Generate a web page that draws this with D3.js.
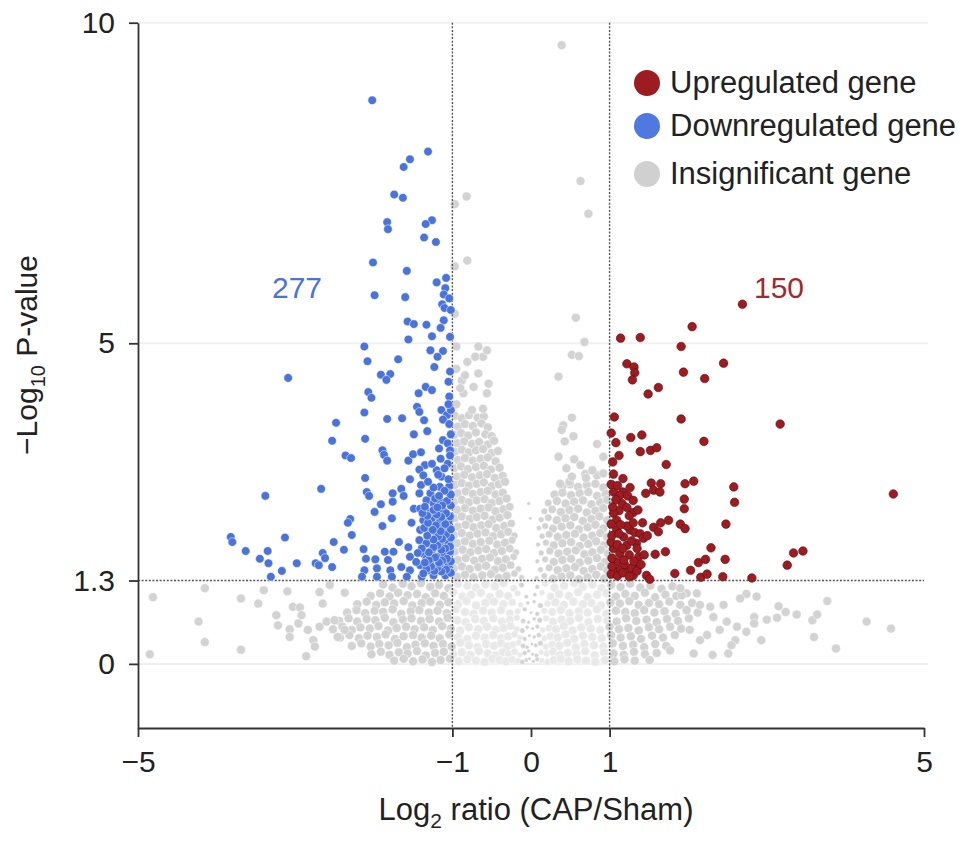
<!DOCTYPE html>
<html>
<head>
<meta charset="utf-8">
<script src="https://cdn.jsdelivr.net/npm/d3@7"></script>
<style>
  body { margin: 0; background: #fff; }
  svg text { font-family: "Liberation Sans", Arial, Helvetica, sans-serif; }
</style>
</head>
<body>
<svg id="chart"></svg>
<script>
// values: [log2 ratio, -log10 p]
const downGenes = [
  [-2.02,8.79],[-1.31,7.99],[-1.54,7.87],[-1.62,7.75],[-1.74,7.32],[-1.63,7.27],[-1.83,6.89],[-1.82,6.78],
  [-1.26,6.92],[-1.34,6.86],[-1.36,6.65],[-1.21,6.58],[-2.01,6.26],[-1.58,6.13],[-1.99,5.75],[-1.60,5.72],
  [-1.08,6.02],[-1.20,5.95],[-1.09,5.86],[-1.11,5.76],[-1.13,5.61],[-1.10,5.55],[-1.11,5.36],[-1.57,5.34],
  [-1.49,5.30],[-1.33,5.29],[-1.15,5.24],[-1.26,5.11],[-1.03,5.10],[-1.56,5.06],[-2.12,4.95],[-2.08,4.72],
  [-1.69,4.75],[-1.28,4.89],[-1.12,4.88],[-1.19,4.79],[-1.23,4.63],[-3.09,4.46],[-1.91,4.51],[-1.79,4.52],
  [-1.84,4.43],[-2.07,4.24],[-2.03,4.15],[-1.43,4.22],[-1.34,4.32],[-1.26,4.27],[-1.04,4.17],[-2.12,3.92],
  [-1.83,3.82],[-1.64,3.83],[-1.45,4.01],[-1.42,3.93],[-1.36,3.80],[-1.14,3.96],[-1.07,3.88],[-1.12,3.81],
  [-2.48,3.76],[-2.53,3.48],[-2.11,3.51],[-1.49,3.58],[-1.32,3.63],[-1.12,3.49],[-1.06,3.44],[-1.17,3.36],
  [-1.03,3.33],[-2.36,3.25],[-2.29,3.21],[-1.89,3.33],[-1.87,3.26],[-1.83,3.17],[-1.56,3.17],[-1.50,3.27],
  [-1.40,3.30],[-1.35,3.10],[-1.42,3.03],[-1.20,3.02],[-1.06,3.12],[-1.37,2.94],[-1.14,2.92],[-1.54,2.88],
  [-2.11,2.90],[-2.67,2.73],[-3.38,2.62],[-2.09,2.68],[-2.06,2.62],[-1.76,2.66],[-1.65,2.73],[-1.62,2.62],
  [-1.40,2.79],[-1.42,2.66],[-1.28,2.66],[-1.16,2.76],[-1.04,2.77],[-1.04,2.66],[-1.76,2.53],[-1.91,2.49],
  [-1.99,2.37],[-1.49,2.42],[-1.33,2.55],[-1.24,2.50],[-1.16,2.53],[-1.12,2.40],[-1.28,2.37],[-1.41,2.42],
  [-2.30,2.26],[-2.33,2.20],[-1.77,2.27],[-1.89,2.15],[-1.52,2.20],[-1.37,2.24],[-1.26,2.27],[-1.16,2.22],
  [-1.05,2.22],[-2.28,2.01],[-1.41,2.09],[-1.28,2.09],[-1.12,2.14],[-1.20,2.02],[-3.82,1.98],[-3.80,1.90],
  [-3.13,1.97],[-2.51,1.90],[-2.38,1.78],[-2.13,1.79],[-1.68,1.90],[-1.56,1.82],[-1.42,1.93],[-1.33,1.88],
  [-1.16,1.88],[-1.05,1.88],[-3.63,1.76],[-3.35,1.76],[-3.45,1.64],[-3.34,1.57],[-2.98,1.57],[-3.17,1.45],
  [-2.65,1.73],[-2.62,1.65],[-2.74,1.57],[-2.70,1.54],[-2.53,1.51],[-2.10,1.64],[-1.98,1.63],[-1.86,1.75],
  [-1.75,1.75],[-1.82,1.62],[-1.54,1.67],[-1.37,1.72],[-1.26,1.77],[-1.12,1.72],[-1.03,1.75],[-2.12,1.46],
  [-1.96,1.49],[-1.79,1.46],[-1.65,1.51],[-1.54,1.46],[-1.41,1.54],[-1.28,1.57],[-1.16,1.54],[-1.05,1.54],
  [-3.31,1.36],[-2.15,1.36],[-1.96,1.36],[-1.77,1.36],[-1.58,1.36],[-1.39,1.36],[-1.24,1.38],[-1.09,1.38],
  [-1.31,1.46],[-1.20,1.67],[-1.33,1.64],[-1.46,1.59],
  [-1.02,1.42],[-1.08,1.47],[-1.14,1.44],[-1.19,1.50],[-1.23,1.45],[-1.27,1.52],[-1.33,1.48],[-1.37,1.41],
  [-1.02,1.60],[-1.07,1.64],[-1.13,1.61],[-1.17,1.58],[-1.22,1.66],[-1.30,1.62],[-1.35,1.58],[-1.03,1.83],
  [-1.09,1.80],[-1.14,1.78],[-1.19,1.85],[-1.24,1.82],[-1.30,1.74],[-1.39,1.80],[-1.44,1.73],[-1.02,1.97],
  [-1.08,2.02],[-1.13,1.95],[-1.18,1.99],[-1.24,1.94],[-1.32,2.00],[-1.36,2.12],[-1.02,2.10],[-1.09,2.18],
  [-1.15,2.07],[-1.21,2.16],[-1.25,2.09],[-1.31,2.20],[-1.03,2.30],[-1.08,2.35],[-1.14,2.29],[-1.20,2.33],
  [-1.24,2.40],[-1.32,2.31],[-1.38,2.35],[-1.02,2.47],[-1.07,2.54],[-1.13,2.47],[-1.19,2.44],[-1.22,2.58],
  [-1.35,2.45],[-1.02,2.64],[-1.10,2.70],[-1.17,2.62],[-1.24,2.75],[-1.31,2.84],[-1.05,2.88],[-1.10,3.05],
  [-1.18,2.95],[-1.26,3.12],[-1.03,3.25],[-1.15,3.20],[-1.02,3.58],[-1.04,3.74],[-1.02,3.96],[-1.05,4.40],
  [-1.03,4.56],[-1.02,5.52],[-1.04,5.70],[-1.05,4.05]
];

const upGenes = [
  [2.69,5.61],[2.05,5.26],[1.14,5.08],[1.39,5.09],[1.91,4.95],[2.45,4.69],[1.22,4.68],[1.31,4.63],
  [1.32,4.54],[1.29,4.43],[1.94,4.55],[2.21,4.45],[1.49,4.21],[1.62,4.31],[1.91,3.82],[3.17,3.74],
  [1.08,3.45],[1.27,3.53],[1.41,3.57],[1.39,3.31],[1.52,3.33],[1.60,3.37],[2.20,3.47],[1.72,3.11],
  [1.05,2.96],[1.17,2.89],[1.53,2.82],[1.65,2.81],[1.96,2.81],[2.07,2.85],[2.58,2.76],[1.05,2.68],
  [1.17,2.68],[1.13,2.63],[1.23,2.62],[1.46,2.66],[1.56,2.71],[1.64,2.68],[1.95,2.57],[1.95,2.42],
  [2.59,2.52],[4.61,2.65],[1.12,2.39],[1.30,2.36],[1.25,2.31],[1.05,2.35],[1.09,2.24],[1.75,2.24],
  [1.65,2.20],[1.56,2.13],[1.62,2.06],[1.90,2.18],[1.96,2.11],[2.48,2.18],[1.09,2.09],[1.18,1.98],
  [1.26,2.09],[1.32,2.05],[1.39,2.03],[1.43,1.96],[1.22,1.85],[1.34,1.88],[1.05,1.80],[1.13,1.72],
  [1.25,1.70],[1.37,1.67],[1.35,1.80],[1.58,1.71],[1.71,1.75],[2.29,1.81],[2.13,1.58],[2.22,1.63],
  [2.47,1.63],[2.03,1.46],[3.34,1.73],[3.46,1.76],[3.26,1.54],[1.09,1.59],[1.07,1.45],[1.30,1.38],
  [1.35,1.50],[1.47,1.38],[1.51,1.32],[1.83,1.41],[2.16,1.35],[2.24,1.40],[2.44,1.36],[2.81,1.34],
  [1.22,1.45],[1.14,1.47],
  [1.02,1.40],[1.10,1.37],[1.17,1.42],[1.25,1.36],[1.03,1.52],[1.19,1.55],[1.28,1.50],[1.03,1.65],
  [1.18,1.62],[1.31,1.60],[1.02,1.90],[1.10,1.86],[1.17,1.80],[1.28,1.92],[1.03,2.00],[1.12,2.03],
  [1.22,2.15],[1.14,2.17],[1.30,2.20],[1.02,2.18],[1.04,2.45],[1.16,2.50],[1.22,2.44],[1.08,2.56],
  [1.30,2.55],[1.02,2.80],[1.10,2.78],[1.26,2.75],[1.04,3.15],[1.12,3.25],[1.02,3.60],[1.06,3.85],
  [1.35,1.45],[1.40,1.55],[1.44,1.70],[1.48,2.00],[1.42,2.20],[1.36,2.40]
];

// insignificant genes, split by region of the plot
const greyUpper = [
  [0.39,9.65],[0.63,7.53],[0.73,7.02],[-0.82,7.29],[-0.97,7.17],[-0.81,6.29],[-0.97,6.20],[-0.97,5.46],
  [0.57,5.40],[0.68,5.02],[-0.67,4.95],[-0.95,4.95],[-0.61,4.79],[-0.81,4.71],[-0.71,4.79],[-0.56,4.89],
  [0.52,4.82],[0.61,4.80],[0.35,4.48],[-0.67,4.53],[-0.54,4.37],[-0.73,4.32],[-0.86,4.22],[-0.88,4.42],
  [-0.56,4.22],[-0.61,3.98],[-0.75,3.96],[-0.95,4.05],[-0.90,4.30],[-0.95,4.60],[-0.84,4.50],[0.52,3.84],
  [0.41,3.72],[0.39,3.65],[0.54,3.55],[0.43,3.47],[0.84,3.43],[0.35,3.23],[0.55,3.19],[0.92,3.23],
  [0.69,2.96],[0.84,2.94],[0.37,2.81],[0.49,2.84],[-0.03,2.50],[-0.01,2.27],
  [0.45,3.05],[0.63,3.10],[0.78,3.02],[0.92,2.97],[0.52,2.92],[0.70,2.90]
];

const greyLeftWing = [
  [-0.97,3.87],[-0.88,3.83],[-0.79,3.88],[-0.68,3.84],[-0.60,3.86],
  [-0.93,3.70],[-0.84,3.74],[-0.74,3.71],[-0.63,3.75],[-0.55,3.69],
  [-0.98,3.57],[-0.89,3.60],[-0.80,3.56],[-0.70,3.61],[-0.58,3.58],[-0.50,3.55],
  [-0.94,3.44],[-0.85,3.47],[-0.75,3.43],[-0.66,3.46],[-0.55,3.42],[-0.47,3.48],
  [-0.97,3.31],[-0.88,3.34],[-0.79,3.30],[-0.70,3.33],[-0.61,3.35],[-0.50,3.29],[-0.42,3.32],
  [-0.93,3.18],[-0.84,3.21],[-0.74,3.17],[-0.64,3.20],[-0.55,3.22],[-0.45,3.16],
  [-0.98,3.05],[-0.89,3.08],[-0.80,3.04],[-0.70,3.07],[-0.60,3.09],[-0.51,3.03],[-0.40,3.06],
  [-0.94,2.92],[-0.85,2.95],[-0.75,2.91],[-0.65,2.94],[-0.56,2.96],[-0.46,2.90],[-0.36,2.93],
  [-0.97,2.79],[-0.88,2.82],[-0.79,2.78],[-0.69,2.81],[-0.60,2.83],[-0.50,2.77],[-0.41,2.80],[-0.33,2.84],
  [-0.93,2.66],[-0.83,2.69],[-0.74,2.65],[-0.64,2.68],[-0.55,2.70],[-0.45,2.64],[-0.36,2.67],
  [-0.98,2.53],[-0.88,2.56],[-0.79,2.52],[-0.69,2.55],[-0.59,2.57],[-0.50,2.51],[-0.40,2.54],[-0.31,2.58],
  [-0.94,2.40],[-0.84,2.43],[-0.74,2.39],[-0.64,2.42],[-0.54,2.44],[-0.45,2.38],[-0.35,2.41],[-0.27,2.45],
  [-0.97,2.27],[-0.88,2.30],[-0.78,2.26],[-0.69,2.29],[-0.59,2.31],[-0.49,2.25],[-0.40,2.28],[-0.30,2.32],
  [-0.93,2.14],[-0.83,2.17],[-0.73,2.13],[-0.63,2.16],[-0.54,2.18],[-0.44,2.12],[-0.34,2.15],[-0.25,2.19],
  [-0.98,2.01],[-0.88,2.04],[-0.78,2.00],[-0.68,2.03],[-0.58,2.05],[-0.48,1.99],[-0.38,2.02],[-0.29,2.06],[-0.21,2.00],
  [-0.94,1.88],[-0.84,1.91],[-0.74,1.87],[-0.64,1.90],[-0.53,1.92],[-0.43,1.86],[-0.33,1.89],[-0.24,1.93],
  [-0.97,1.75],[-0.87,1.78],[-0.77,1.74],[-0.67,1.77],[-0.57,1.79],[-0.47,1.73],[-0.37,1.76],[-0.27,1.80],[-0.19,1.74],
  [-0.93,1.62],[-0.83,1.65],[-0.72,1.61],[-0.62,1.64],[-0.52,1.66],[-0.42,1.60],[-0.32,1.63],[-0.22,1.67],
  [-0.98,1.49],[-0.88,1.52],[-0.78,1.48],[-0.67,1.51],[-0.57,1.53],[-0.46,1.47],[-0.36,1.50],[-0.26,1.54],[-0.16,1.48],
  [-0.94,1.36],[-0.84,1.39],[-0.73,1.35],[-0.62,1.38],[-0.51,1.40],[-0.41,1.34],[-0.31,1.37],[-0.21,1.41],[-0.12,1.35]
];

const greyRightWing = [
  [0.40,2.77],[0.50,2.80],[0.60,2.76],[0.71,2.79],[0.82,2.81],[0.92,2.75],
  [0.30,2.64],[0.40,2.67],[0.51,2.63],[0.62,2.66],[0.73,2.68],[0.84,2.62],[0.95,2.65],
  [0.22,2.51],[0.33,2.54],[0.44,2.50],[0.55,2.53],[0.66,2.55],[0.77,2.49],[0.88,2.52],[0.97,2.56],
  [0.17,2.38],[0.27,2.41],[0.38,2.37],[0.49,2.40],[0.60,2.42],[0.71,2.36],[0.82,2.39],[0.92,2.43],
  [0.13,2.25],[0.22,2.28],[0.33,2.24],[0.44,2.27],[0.55,2.29],[0.66,2.23],[0.77,2.26],[0.87,2.30],[0.97,2.24],
  [0.10,2.12],[0.18,2.15],[0.28,2.11],[0.39,2.14],[0.50,2.16],[0.61,2.10],[0.72,2.13],[0.82,2.17],[0.92,2.11],
  [0.14,1.99],[0.23,2.02],[0.34,1.98],[0.45,2.01],[0.56,2.03],[0.67,1.97],[0.78,2.00],[0.88,2.04],[0.97,1.98],
  [0.09,1.86],[0.19,1.89],[0.29,1.85],[0.40,1.88],[0.51,1.90],[0.62,1.84],[0.73,1.87],[0.83,1.91],[0.93,1.85],
  [0.13,1.73],[0.24,1.76],[0.35,1.72],[0.46,1.75],[0.57,1.77],[0.68,1.71],[0.78,1.74],[0.89,1.78],[0.98,1.72],
  [0.08,1.60],[0.18,1.63],[0.29,1.59],[0.40,1.62],[0.51,1.64],[0.62,1.58],[0.73,1.61],[0.84,1.65],[0.94,1.59],
  [0.12,1.47],[0.23,1.50],[0.34,1.46],[0.45,1.49],[0.56,1.51],[0.67,1.45],[0.78,1.48],[0.89,1.52],[0.97,1.46],
  [0.07,1.34],[0.17,1.37],[0.28,1.33],[0.39,1.36],[0.50,1.38],[0.61,1.32],[0.72,1.35],[0.83,1.39],[0.93,1.33]
];

const greyLowerBand = [
  [-1.88,1.24],[-1.76,1.19],[-1.63,1.25],[-1.52,1.21],[-1.40,1.26],[-1.28,1.20],[-1.17,1.23],[-1.05,1.18],
  [-0.93,1.25],[-0.81,1.22],[-0.70,1.19],[-0.58,1.24],[-0.46,1.21],[-0.35,1.26],[-0.22,1.18],[-0.12,1.23],
  [0.08,1.20],[0.18,1.25],[0.30,1.19],[0.42,1.22],[0.55,1.26],[0.66,1.20],[0.78,1.24],[0.90,1.18],
  [1.02,1.23],[1.14,1.20],[1.26,1.25],[1.39,1.19],[1.52,1.22],[1.66,1.17],[1.80,1.21],
  [-2.04,1.06],[-1.92,1.10],[-1.80,1.05],[-1.69,1.11],[-1.57,1.07],[-1.45,1.09],[-1.34,1.04],[-1.22,1.10],
  [-1.11,1.06],[-0.99,1.12],[-0.87,1.05],[-0.76,1.08],[-0.64,1.11],[-0.52,1.04],[-0.40,1.09],[-0.29,1.06],
  [-0.17,1.10],[-0.06,1.05],[0.05,1.08],[0.14,1.11],[0.25,1.05],[0.36,1.09],[0.48,1.06],[0.60,1.12],
  [0.72,1.04],[0.84,1.08],[0.96,1.10],[1.08,1.05],[1.20,1.09],[1.32,1.06],[1.45,1.11],[1.58,1.04],
  [1.71,1.08],[1.85,1.06],[1.98,1.10],
  [-2.21,0.93],[-2.09,0.97],[-1.97,0.92],[-1.86,0.96],[-1.74,0.94],[-1.62,0.98],[-1.51,0.91],[-1.39,0.95],
  [-1.28,0.97],[-1.16,0.92],[-1.05,0.96],[-0.93,0.93],[-0.82,0.98],[-0.70,0.91],[-0.58,0.95],[-0.47,0.97],
  [-0.35,0.93],[-0.24,0.96],[-0.13,0.92],[-0.04,0.95],[0.04,0.97],[0.12,0.91],[0.21,0.94],[0.31,0.96],
  [0.42,0.92],[0.54,0.97],[0.66,0.93],[0.77,0.95],[0.89,0.91],[1.01,0.96],[1.13,0.94],[1.25,0.98],
  [1.37,0.92],[1.50,0.95],[1.63,0.93],[1.76,0.97],[1.90,0.92],[2.05,0.95],
  [-2.34,0.80],[-2.22,0.84],[-2.11,0.79],[-1.99,0.83],[-1.88,0.81],[-1.76,0.85],[-1.65,0.78],[-1.53,0.82],
  [-1.42,0.84],[-1.30,0.80],[-1.19,0.83],[-1.07,0.79],[-0.96,0.85],[-0.84,0.81],[-0.73,0.78],[-0.61,0.83],
  [-0.50,0.80],[-0.38,0.84],[-0.27,0.79],[-0.17,0.82],[-0.08,0.85],[0.00,0.80],[0.08,0.78],[0.17,0.83],
  [0.27,0.81],[0.38,0.84],[0.49,0.79],[0.61,0.82],[0.72,0.80],[0.84,0.85],[0.96,0.78],[1.08,0.83],
  [1.20,0.81],[1.32,0.79],[1.44,0.84],[1.57,0.80],[1.70,0.82],[1.84,0.78],[1.98,0.83],[2.12,0.80],
  [-2.44,0.67],[-2.32,0.71],[-2.21,0.66],[-2.09,0.70],[-1.98,0.68],[-1.86,0.72],[-1.75,0.65],[-1.63,0.69],
  [-1.52,0.71],[-1.40,0.67],[-1.29,0.70],[-1.17,0.66],[-1.06,0.72],[-0.94,0.68],[-0.83,0.65],[-0.71,0.70],
  [-0.60,0.67],[-0.48,0.71],[-0.37,0.66],[-0.27,0.69],[-0.18,0.72],[-0.10,0.67],[-0.03,0.65],[0.04,0.70],
  [0.11,0.68],[0.19,0.71],[0.28,0.66],[0.39,0.69],[0.50,0.67],[0.61,0.72],[0.73,0.65],[0.85,0.70],
  [0.97,0.68],[1.09,0.66],[1.21,0.71],[1.34,0.67],[1.47,0.69],[1.60,0.65],[1.73,0.70],[1.87,0.67],[2.01,0.71],
  [-2.52,0.54],[-2.40,0.58],[-2.28,0.53],[-2.17,0.57],[-2.05,0.55],[-1.94,0.59],[-1.82,0.52],[-1.71,0.56],
  [-1.59,0.58],[-1.48,0.54],[-1.36,0.57],[-1.25,0.53],[-1.13,0.59],[-1.02,0.55],[-0.90,0.52],[-0.79,0.57],
  [-0.67,0.54],[-0.56,0.58],[-0.45,0.53],[-0.35,0.56],[-0.26,0.59],[-0.18,0.54],[-0.11,0.52],[-0.05,0.57],
  [0.02,0.55],[0.08,0.58],[0.15,0.53],[0.23,0.56],[0.32,0.54],[0.42,0.59],[0.53,0.52],[0.64,0.57],
  [0.76,0.55],[0.88,0.53],[1.00,0.58],[1.12,0.54],[1.24,0.56],[1.37,0.52],[1.50,0.57],[1.63,0.54],
  [1.77,0.58],[1.91,0.55],
  [-2.43,0.41],[-2.31,0.45],[-2.19,0.40],[-2.08,0.44],[-1.96,0.42],[-1.85,0.46],[-1.73,0.39],[-1.62,0.43],
  [-1.50,0.45],[-1.39,0.41],[-1.27,0.44],[-1.16,0.40],[-1.04,0.46],[-0.93,0.42],[-0.81,0.39],[-0.70,0.44],
  [-0.59,0.41],[-0.48,0.45],[-0.38,0.40],[-0.29,0.43],[-0.21,0.46],[-0.14,0.41],[-0.08,0.39],[-0.02,0.44],
  [0.04,0.42],[0.10,0.45],[0.17,0.40],[0.25,0.43],[0.34,0.41],[0.44,0.46],[0.55,0.39],[0.66,0.44],
  [0.78,0.42],[0.90,0.40],[1.02,0.45],[1.14,0.41],[1.27,0.43],[1.40,0.39],[1.54,0.44],[1.68,0.41],[1.83,0.45],
  [-2.28,0.28],[-2.16,0.32],[-2.04,0.27],[-1.93,0.31],[-1.81,0.29],[-1.70,0.33],[-1.58,0.26],[-1.47,0.30],
  [-1.35,0.32],[-1.24,0.28],[-1.12,0.31],[-1.01,0.27],[-0.90,0.33],[-0.79,0.29],[-0.68,0.26],[-0.57,0.31],
  [-0.47,0.28],[-0.38,0.32],[-0.30,0.27],[-0.23,0.30],[-0.16,0.33],[-0.10,0.28],[-0.05,0.26],[0.01,0.31],
  [0.06,0.29],[0.12,0.32],[0.19,0.27],[0.27,0.30],[0.36,0.28],[0.46,0.33],[0.57,0.26],[0.68,0.31],
  [0.80,0.29],[0.92,0.27],[1.04,0.32],[1.17,0.28],[1.30,0.30],[1.44,0.26],[1.58,0.31],[1.72,0.28],
  [-2.03,0.15],[-1.91,0.19],[-1.80,0.14],[-1.68,0.18],[-1.57,0.16],[-1.45,0.20],[-1.34,0.13],[-1.22,0.17],
  [-1.11,0.19],[-0.99,0.15],[-0.88,0.18],[-0.77,0.14],[-0.66,0.20],[-0.55,0.16],[-0.45,0.13],[-0.36,0.18],
  [-0.28,0.15],[-0.21,0.19],[-0.14,0.14],[-0.08,0.17],[-0.03,0.20],[0.02,0.15],[0.07,0.13],[0.13,0.18],
  [0.20,0.16],[0.28,0.19],[0.37,0.14],[0.47,0.17],[0.58,0.15],[0.69,0.20],[0.81,0.13],[0.93,0.18],
  [1.05,0.16],[1.18,0.14],[1.31,0.19],[1.45,0.15],[1.60,0.17],
  [-1.74,0.05],[-1.62,0.08],[-1.50,0.04],[-1.38,0.07],[-1.26,0.03],[-1.15,0.06],[-1.03,0.08],[-0.92,0.04],
  [-0.81,0.07],[-0.70,0.05],[-0.59,0.03],[-0.49,0.08],[-0.40,0.06],[-0.32,0.04],[-0.24,0.07],[-0.17,0.05],
  [-0.11,0.03],[-0.06,0.06],[-0.02,0.08],[0.03,0.04],[0.08,0.07],[0.14,0.05],[0.21,0.03],[0.29,0.06],
  [0.38,0.08],[0.48,0.04],[0.59,0.07],[0.70,0.05],[0.82,0.03],[0.94,0.06],[1.06,0.04],[1.19,0.07],[1.32,0.05]
];

const greySides = [
  [-4.81,1.04],[-4.15,1.18],[-4.23,0.66],[-4.15,0.34],[-4.85,0.15],[-3.69,1.02],[-3.69,0.22],[-3.47,0.94],
  [-3.40,1.15],[-3.10,1.13],[-3.24,0.76],[-3.22,0.60],[-3.03,0.89],[-2.94,0.88],[-2.92,0.76],[-2.96,0.63],
  [-3.07,0.54],[-3.07,0.42],[-2.84,0.53],[-2.86,0.12],[-2.77,0.37],[-2.75,0.27],[-2.69,1.12],[-2.65,0.94],
  [-2.56,1.23],[-2.37,1.11],[-2.69,0.58],[-2.60,0.66],[-2.50,0.68],[-2.46,0.42],[-2.37,0.53],
  [3.77,0.98],[4.27,0.66],[4.58,0.55],[3.88,0.24],[3.60,0.42],[3.58,0.68],[3.64,0.77],[3.38,0.77],
  [3.24,0.81],[3.15,0.90],[3.13,0.72],[3.00,0.69],[2.93,0.37],[2.87,1.05],[2.74,1.09],[2.66,1.02],
  [2.84,0.73],[2.84,0.63],[2.74,0.50],[2.60,0.37],[2.55,0.29],[2.51,0.16],[2.31,0.14],[2.62,0.58],
  [2.49,0.66],[2.40,0.53],[2.45,0.92],[2.32,0.73],[2.28,0.89],[2.15,0.92],[2.11,1.10],[1.92,1.07],
  [1.90,1.18],[2.07,0.16],[2.24,0.45],[2.15,0.37],[2.02,0.53],[1.98,0.84],[1.51,0.06],[1.77,0.21]
];

const xTicks = [-5, -1, 0, 1, 5];
const yTicks = [0, 1.3, 5, 10];
const gridValues = [0, 5, 10];
const foldCutoffs = [-1, 1];
const pCutoff = 1.3;
const legendLabels = ["Upregulated gene", "Downregulated gene", "Insignificant gene"];
const countLabels = [277, 150];

let width = 969;
let height = 841;
const colors = {up: "#9c1c21", down: "#4a74dc", grey: "#d3d3d3", greyPale: "#e9e9e9"};

function main() {
    let svg = d3.select("#chart")
        .attr("width", width)
        .attr("height", height);

    let x = d3.scaleLinear().domain([-5, 5]).range([138, 924]);
    let y = d3.scaleLinear().domain([-1, 10]).range([728, 22.7]);
    // grey dots near zero fold change are drawn smaller
    let rGrey = d3.scaleLinear().domain([0, 0.3]).range([1.6, 4.5]).clamp(true);

    // faint grid
    svg.append("g")
        .selectAll("line")
        .data(gridValues)
        .join("line")
        .attr("x1", x(-5)).attr("x2", x(5) + 4)
        .attr("y1", d => y(d)).attr("y2", d => y(d))
        .attr("stroke", "#f0f0f0")
        .attr("stroke-width", 2);

    let allGrey = greyLowerBand.concat(greySides, greyLeftWing, greyRightWing, greyUpper);
    svg.append("g")
        .selectAll("circle")
        .data(allGrey)
        .join("circle")
        .attr("cx", d => x(d[0]))
        .attr("cy", d => y(d[1]))
        .attr("r", d => rGrey(Math.abs(d[0])))
        // the crowded centre under the cutoff reads paler in the picture
        .attr("fill", d => (Math.abs(d[0]) < 1 && d[1] < pCutoff && Math.abs(d[0]) > 0.12) ? colors.greyPale : colors.grey)
        .attr("stroke", "#fff")
        .attr("stroke-width", 0.5);

    // threshold lines
    let dash = svg.append("g")
        .attr("stroke", "#555")
        .attr("stroke-width", 1.4)
        .attr("stroke-dasharray", "2,1.6");
    dash.selectAll("line.v")
        .data(foldCutoffs)
        .join("line")
        .attr("class", "v")
        .attr("x1", d => x(d)).attr("x2", d => x(d))
        .attr("y1", y(10)).attr("y2", y(-1));
    dash.append("line")
        .attr("x1", x(-5)).attr("x2", x(5))
        .attr("y1", y(pCutoff)).attr("y2", y(pCutoff));

    svg.append("g")
        .selectAll("circle")
        .data(downGenes)
        .join("circle")
        .attr("cx", d => x(d[0]))
        .attr("cy", d => y(d[1]))
        .attr("r", 4.3)
        .attr("fill", colors.down)
        .attr("stroke", "#fff")
        .attr("stroke-width", 0.5);

    svg.append("g")
        .selectAll("circle")
        .data(upGenes)
        .join("circle")
        .attr("cx", d => x(d[0]))
        .attr("cy", d => y(d[1]))
        .attr("r", 4.3)
        .attr("fill", colors.up)
        .attr("stroke", "#5e0f12")
        .attr("stroke-width", 0.6);

    // axes
    let yAxis = svg.append("g")
        .attr("transform", `translate(${x(-5)},0)`)
        .call(d3.axisLeft(y).tickValues(yTicks).tickSize(9).tickSizeOuter(0).tickPadding(14)
            .tickFormat(d => d === 1.3 ? "1.3" : d3.format("d")(d)));
    let xAxis = svg.append("g")
        .attr("transform", `translate(0,${y(-1)})`)
        .call(d3.axisBottom(x).tickValues(xTicks).tickSize(9).tickSizeOuter(0).tickPadding(14));
    [yAxis, xAxis].forEach(a => {
        a.select(".domain").attr("stroke", "#333").attr("stroke-width", 1.8);
        a.selectAll(".tick line").attr("stroke", "#333").attr("stroke-width", 1.8);
        a.selectAll(".tick text").attr("font-size", 30).attr("fill", "#222")
            .attr("font-family", "Liberation Sans, Arial, sans-serif");
    });

    // axis titles
    let xt = svg.append("text")
        .attr("x", 536).attr("y", 820)
        .attr("text-anchor", "middle")
        .attr("font-size", 31).attr("fill", "#222");
    xt.append("tspan").text("Log");
    xt.append("tspan").attr("font-size", 21).attr("dy", 8).text("2");
    xt.append("tspan").attr("dy", -8).text(" ratio (CAP/Sham)");

    let yt = svg.append("text")
        .attr("transform", "translate(37,355) rotate(-90)")
        .attr("text-anchor", "middle")
        .attr("font-size", 30).attr("fill", "#222");
    yt.append("tspan").text("\u2212Log");
    yt.append("tspan").attr("font-size", 20).attr("dy", 8).text("10");
    yt.append("tspan").attr("dy", -8).text(" P-value");

    // counts
    svg.append("text")
        .attr("x", 297).attr("y", 298)
        .attr("text-anchor", "middle")
        .attr("font-size", 30).attr("fill", colors.down)
        .text(countLabels[0]);
    svg.append("text")
        .attr("x", 779).attr("y", 298)
        .attr("text-anchor", "middle")
        .attr("font-size", 30).attr("fill", "#a5282d")
        .text(countLabels[1]);

    // legend
    let legendColors = [colors.up, "#4f79e0", "#d0d0d0"];
    let legendY = [83, 126, 174];
    let legend = svg.append("g");
    legendLabels.forEach((label, i) => {
        legend.append("circle")
            .attr("cx", 647).attr("cy", legendY[i])
            .attr("r", 13)
            .attr("fill", legendColors[i]);
        legend.append("text")
            .attr("x", 670).attr("y", legendY[i] + 10)
            .attr("font-size", 31).attr("fill", "#222")
            .text(label);
    });
}
main()
</script>
</body>
</html>
